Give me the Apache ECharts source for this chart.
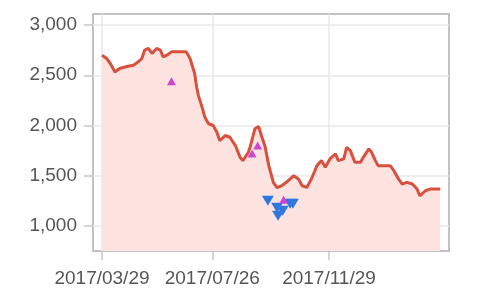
<!DOCTYPE html>
<html>
<head>
<meta charset="utf-8">
<script src="https://cdn.jsdelivr.net/npm/echarts@6/dist/echarts.min.js"></script>
<style>
html,body{margin:0;padding:0;background:#fff;}
#chart{width:500px;height:298px;}
</style>
</head>
<body>
<div id="chart"></div>
<script>
// ---- data ----
var dates = ['2017-03-29','2017-04-03','2017-04-07','2017-04-12','2017-04-17','2017-04-26','2017-05-02','2017-05-07','2017-05-11','2017-05-14',
  '2017-05-18','2017-05-22','2017-05-27','2017-05-31','2017-06-03','2017-06-07','2017-06-12','2017-06-28','2017-07-02','2017-07-07',
  '2017-07-09','2017-07-11','2017-07-15','2017-07-18','2017-07-22','2017-07-27','2017-07-31','2017-08-03','2017-08-09','2017-08-14',
  '2017-08-20','2017-08-25','2017-08-28','2017-09-03','2017-09-05','2017-09-10','2017-09-14','2017-09-17','2017-09-21','2017-09-25',
  '2017-09-30','2017-10-04','2017-10-09','2017-10-16','2017-10-22','2017-10-27','2017-10-31','2017-11-05','2017-11-10','2017-11-16',
  '2017-11-21','2017-11-25','2017-11-30','2017-12-06','2017-12-09','2017-12-15','2017-12-18','2017-12-22','2017-12-27','2018-01-02',
  '2018-01-05','2018-01-11','2018-01-14','2018-01-18','2018-01-21','2018-02-03','2018-02-07','2018-02-12','2018-02-16','2018-02-21',
  '2018-02-27','2018-03-04','2018-03-07','2018-03-13','2018-03-18','2018-03-29'];
var prices = [2700,2667,2617,2533,2567,2590,2600,2633,2667,2750,
  2767,2717,2767,2750,2683,2700,2733,2733,2667,2517,
  2390,2300,2183,2083,2017,2000,1933,1850,1900,1883,
  1800,1683,1650,1733,1790,1967,1990,1900,1790,1600,
  1430,1380,1400,1450,1500,1467,1400,1383,1467,1600,
  1650,1583,1667,1717,1650,1667,1783,1750,1633,1633,
  1683,1767,1733,1650,1600,1600,1550,1467,1417,1433,
  1417,1367,1300,1350,1367,1367];

var buyDates = ['2017-06-12','2017-09-07','2017-09-13','2017-10-11'];
var buyValues = [2440,1720,1800,1260];

var sellDates = ['2017-09-24','2017-10-04','2017-10-05','2017-10-10','2017-10-18','2017-10-21'];
var sellValues = [1250,1180,1100,1150,1220,1220];

var xTickLabels = ['2017-03-29','2017-07-26','2017-11-29'];
var yTickLabels = [1000,1500,2000,2500,3000];

// ---- chart ----
function ts(s){ var p=s.split('-'); return new Date(+p[0], +p[1]-1, +p[2]).getTime(); }
function zip(a,b){ return a.map(function(d,i){ return [ts(d),b[i]]; }); }
var DAY = 86400000;
var base = ts(xTickLabels[0]);
function pad(n){ return (n<10?'0':'')+n; }

var chart = echarts.init(document.getElementById('chart'), null, {renderer:'canvas'});
var labelStyle = {color:'#555', fontSize:19, fontFamily:'Liberation Sans, Arial, sans-serif'};
chart.setOption({
  animation:false,
  backgroundColor:'#fff',
  grid:{left:93, top:14, right:51, bottom:47, show:true, borderColor:'#c2c2c2', borderWidth:2, backgroundColor:'transparent'},
  xAxis:{
    type:'value',
    scale:true,
    min: base - 9.7*DAY,
    max: base + 374.5*DAY,
    axisLine:{show:false},
    axisTick:{show:true, length:9, lineStyle:{color:'#c8c8c8', width:1.5}, customValues:xTickLabels.map(ts)},
    axisLabel:Object.assign({margin:18, customValues:xTickLabels.map(ts), hideOverlap:false,
      formatter:function(v){ var d=new Date(v); return d.getFullYear()+'/'+pad(d.getMonth()+1)+'/'+pad(d.getDate()); }}, labelStyle),
    splitLine:{show:true, lineStyle:{color:'#e8e8e8', width:1.5}}
  },
  yAxis:{
    type:'value',
    min:750, max:3110,
    axisLine:{show:false},
    axisTick:{show:true, length:9, lineStyle:{color:'#c8c8c8', width:1.5}, customValues:yTickLabels},
    axisLabel:Object.assign({margin:16, customValues:yTickLabels,
      formatter:function(v){ return String(v).replace(/\B(?=(\d{3})+(?!\d))/g, ','); }}, labelStyle),
    splitLine:{show:true, lineStyle:{color:'#e8e8e8', width:1.5}}
  },
  series:[
    {
      type:'line',
      data:zip(dates,prices),
      showSymbol:false,
      lineStyle:{color:'#d8513f', width:3},
      areaStyle:{color:'#fce3df', opacity:1},
      z:2
    },
    {
      type:'scatter',
      data:zip(sellDates,sellValues),
      symbol:'triangle',
      symbolRotate:180,
      symbolSize:[12,10],
      itemStyle:{color:'#2f78e0', opacity:1},
      z:3
    },
    {
      type:'scatter',
      data:zip(buyDates,buyValues),
      symbol:'triangle',
      symbolSize:[9,8],
      itemStyle:{color:'#cf45cf', opacity:1},
      z:4
    }
  ]
});
</script>
</body>
</html>
